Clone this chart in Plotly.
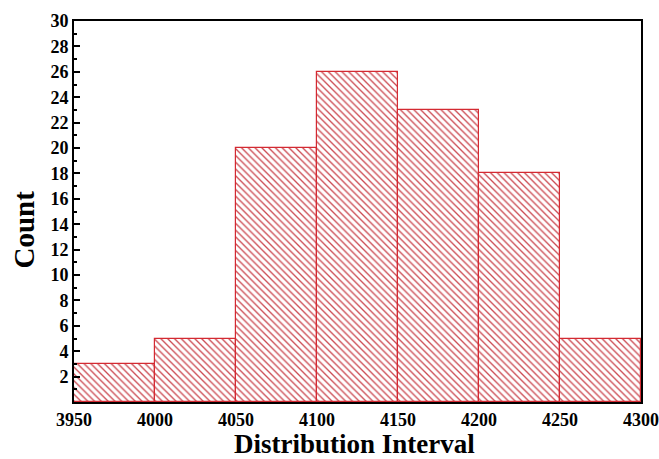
import plotly.graph_objects as go

bin_edges = [3950, 4000, 4050, 4100, 4150, 4200, 4250, 4300]
counts = [3, 5, 20, 26, 23, 18, 5]
y_ticks = [2, 4, 6, 8, 10, 12, 14, 16, 18, 20, 22, 24, 26, 28, 30]
x_title = "Distribution Interval"
y_title = "Count"

centers = [(a + b) / 2 for a, b in zip(bin_edges[:-1], bin_edges[1:])]
widths = [b - a for a, b in zip(bin_edges[:-1], bin_edges[1:])]

FONT = "Liberation Serif"
red = "#d42a32"

W, H = 659, 459
L, R, T, B = 74, 18, 21, 57
pw, ph = W - L - R, H - T - B

fig = go.Figure(go.Bar(
    x=centers, y=counts, width=widths,
    marker=dict(
        color="white",
        line=dict(color=red, width=1.2),
        pattern=dict(shape="\\", fgcolor="#cc4a52", bgcolor="white", size=4.8, solidity=0.28),
    ),
))

fig.update_layout(
    template="none",
    width=W, height=H,
    margin=dict(l=L, r=R, t=T, b=B),
    paper_bgcolor="white", plot_bgcolor="white",
    showlegend=False,
    font=dict(family=FONT, color="black"),
    bargap=0,
    annotations=[
        dict(text="<b>%s</b>" % x_title, xref="paper", yref="paper",
             x=(354.5 - L) / pw, y=(H - B - 443.5) / ph, xanchor="center", yanchor="middle",
             showarrow=False, borderpad=0, font=dict(family=FONT, size=27, color="black")),
        dict(text="<b>%s</b>" % y_title, xref="paper", yref="paper", textangle=-90,
             x=(23.5 - L) / pw, y=(H - B - 230) / ph, xanchor="center", yanchor="middle",
             showarrow=False, borderpad=0, font=dict(family=FONT, size=29, color="black")),
    ],
)
fig.update_xaxes(
    automargin=False,
    range=[3950, 4300], tickmode="array", tickvals=bin_edges,
    ticktext=[str(v) for v in bin_edges],
    tickfont=dict(family=FONT, size=18, weight="bold"),
    showgrid=False, zeroline=False,
    showline=True, linecolor="black", linewidth=2, mirror=True,
    ticks="",
)
fig.update_yaxes(
    automargin=False,
    range=[0, 30], tickmode="array", tickvals=y_ticks,
    ticktext=[str(v) for v in y_ticks],
    tickfont=dict(family=FONT, size=18, weight="bold"),
    showgrid=False, zeroline=False,
    showline=True, linecolor="black", linewidth=2, mirror=True,
    ticks="inside", ticklen=6, tickwidth=2, tickcolor="black",
    minor=dict(ticks="inside", ticklen=3, tickwidth=1.5, tickcolor="black", tickvals=list(range(1, 30, 2))),
)

fig.write_html(
    "out.html",
    config={"displayModeBar": False},
    post_script="document.body.style.margin='0';document.body.style.overflow='hidden';",
)
